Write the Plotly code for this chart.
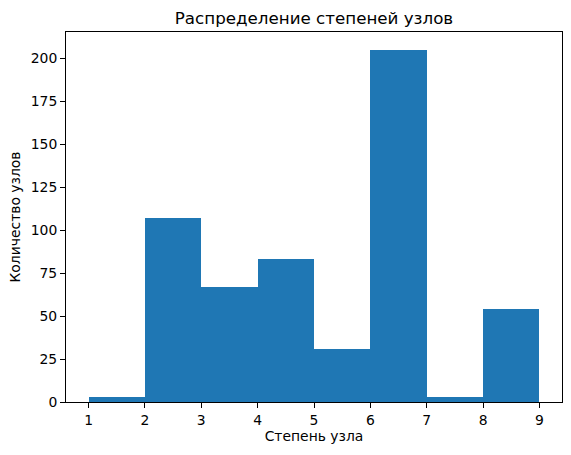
import plotly.graph_objects as go

bin_edges = [1, 2, 3, 4, 5, 6, 7, 8, 9]
counts = [3, 107, 67, 83, 31, 205, 3, 54]
x_ticks = [1, 2, 3, 4, 5, 6, 7, 8, 9]
y_ticks = [0, 25, 50, 75, 100, 125, 150, 175, 200]

centers = [(a + b) / 2 for a, b in zip(bin_edges[:-1], bin_edges[1:])]
widths = [b - a for a, b in zip(bin_edges[:-1], bin_edges[1:])]

fig = go.Figure(go.Bar(x=centers, y=counts, width=widths,
                       marker=dict(color="#1f77b4", line=dict(width=0))))

font = "DejaVu Sans"
fig.update_layout(
    width=571, height=455,
    margin=dict(l=66, r=9, t=32, b=53),
    plot_bgcolor="white", paper_bgcolor="white",
    font=dict(family=font, size=13.9, color="black"),
    title=dict(text="Распределение степеней узлов", x=(66 + 562) / 2 / 571, xanchor="center",
               y=1 - 18 / 455, yanchor="middle", font=dict(size=16.7, family=font)),
    bargap=0, showlegend=False,
)
fig.update_xaxes(range=[0.6, 9.4], tickvals=x_ticks, ticks="outside", ticklen=5, tickcolor="black",
                 showline=True, linecolor="black", linewidth=1, mirror=True, showgrid=False,
                 zeroline=False, automargin=False,
                 title=dict(text="Степень узла", standoff=4, font=dict(size=13.9)))
fig.update_yaxes(range=[0, 215.25], tickvals=y_ticks, ticks="outside", ticklen=5, tickcolor="black",
                 showline=True, linecolor="black", linewidth=1, mirror=True, showgrid=False,
                 zeroline=False, automargin=False,
                 title=dict(text="Количество узлов", standoff=6, font=dict(size=13.9)))

fig.write_html("out.html", config={"displayModeBar": False},
               post_script="document.body.style.margin='0';")
